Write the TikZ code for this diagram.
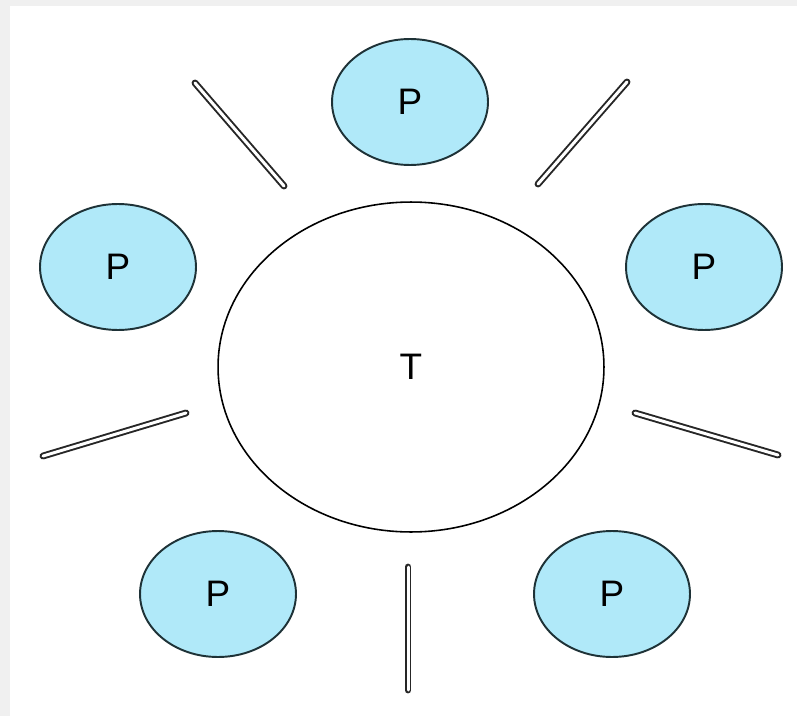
\documentclass[tikz,border=0pt]{standalone}
\usepackage{fontspec}
\setmainfont{Liberation Sans}
\usetikzlibrary{shapes.geometric}

\definecolor{philblue}{RGB}{176,233,249}
\definecolor{philline}{RGB}{30,50,55}
\definecolor{pageedge}{RGB}{240,240,240}

\begin{document}
\begin{tikzpicture}[x=0.02cm, y=-0.02cm,
    phil/.style={ellipse, draw=philline, line width=1.1pt, fill=philblue,
        minimum width=3.12cm, minimum height=2.52cm, inner sep=0pt,
        font=\fontsize{21}{24}\selectfont},
    chopstick/.style={draw=black!85, line width=1.1pt, double=white,
        double distance=1.7pt, line cap=round}]
% page with grey edge on the left and top
\fill[pageedge] (0,0) rectangle (797,716);
\fill[white] (10,6) rectangle (797,716);
\useasboundingbox (0,0) rectangle (797,716);

% the table
\node[ellipse, draw, line width=0.9pt, minimum width=7.72cm, minimum height=6.6cm,
    inner sep=0pt, font=\fontsize{21}{24}\selectfont] (table) at (411,367) {T};

% philosophers round the table
\foreach \name/\x/\y in {p1/410/102, p2/704/267, p3/612/594, p4/218/594, p5/118/267} {
    \node[phil] (\name) at (\x,\y) {P};
}

% one chopstick between each pair of neighbours
\foreach \i/\ax/\ay/\bx/\by in {1/195/83/284/186, 2/627/82/538/184,
        3/635/413/778/455, 4/408/567/408/690, 5/43/456/186/413} {
    \coordinate (c\i a) at (\ax,\ay);
    \coordinate (c\i b) at (\bx,\by);
    \draw[chopstick] (c\i a) -- (c\i b);
}
\end{tikzpicture}
\end{document}
